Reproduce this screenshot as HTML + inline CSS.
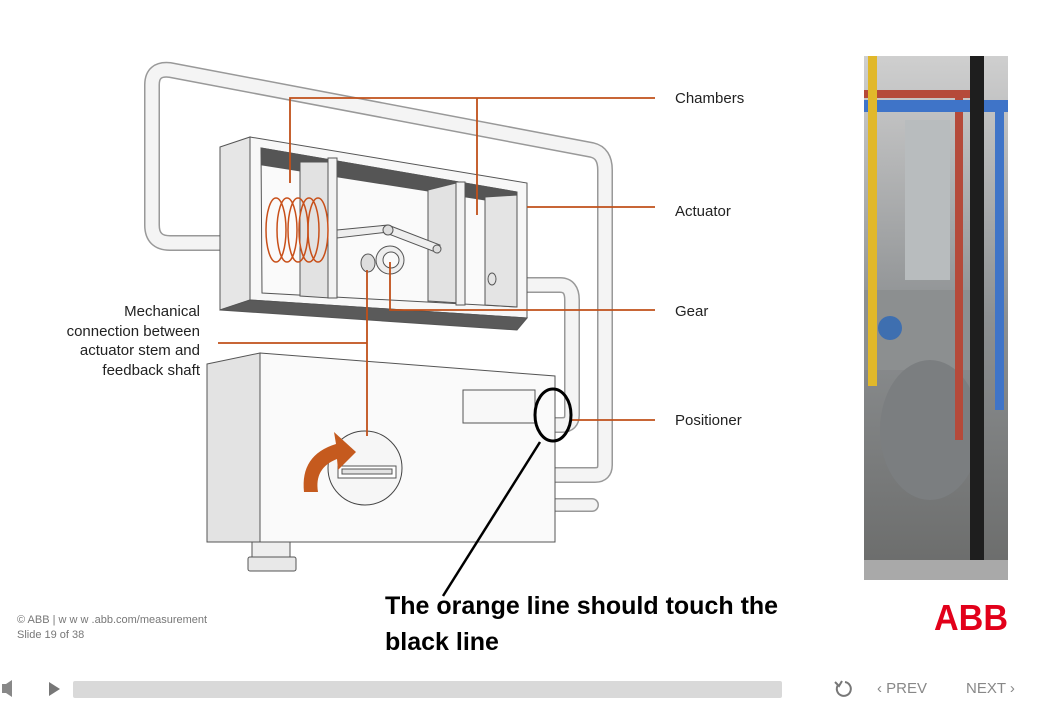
<!DOCTYPE html>
<html><head><meta charset="utf-8"><style>
html,body{margin:0;padding:0;background:#fff;}
body{width:1049px;height:710px;overflow:hidden;position:relative;font-family:"Liberation Sans",sans-serif;}
.lbl{position:absolute;font-size:15px;color:#222;}
</style></head><body>
<svg width="1049" height="710" style="position:absolute;left:0;top:0">
 <g fill="none" stroke-linecap="round" stroke-linejoin="round">
  <path d="M233,243 L170,243 Q152,243 152,225 L152,85 Q152,68 170,70 L592,150 Q605,153 605,170 L605,465 Q605,475 595,475 L555,475" stroke="#999" stroke-width="16"/>
  <path d="M233,243 L170,243 Q152,243 152,225 L152,85 Q152,68 170,70 L592,150 Q605,153 605,170 L605,465 Q605,475 595,475 L555,475" stroke="#f4f4f4" stroke-width="13"/>
  <path d="M525,285 L560,285 Q572,285 572,300 L572,415 Q572,425 562,425 L555,425" stroke="#999" stroke-width="16"/>
  <path d="M525,285 L560,285 Q572,285 572,300 L572,415 Q572,425 562,425 L555,425" stroke="#f4f4f4" stroke-width="13"/>
  <path d="M556,505 L592,505" stroke="#999" stroke-width="14"/>
  <path d="M556,505 L592,505" stroke="#f4f4f4" stroke-width="11"/>
 </g>
 <g stroke="#555" stroke-width="1">
  <polygon points="220,147 250,137 250,300 220,310" fill="#e6e6e6"/>
  <polygon points="250,137 527,183 527,318 250,300" fill="#f7f7f7"/>
  <polygon points="220,310 250,300 527,318 517,330" fill="#5a5a5a"/>
  <polygon points="261,148 517,192 517,307 262,293" fill="#fafafa"/>
  <polygon points="261,148 517,192 517,205 262,165" fill="#555"/>
  <polygon points="300,162 330,162 330,298 300,296" fill="#e2e2e2"/>
  <rect x="328" y="158" width="9" height="140" fill="#f2f2f2"/>
  <polygon points="428,190 460,182 460,303 428,301" fill="#e2e2e2"/>
  <rect x="456" y="182" width="9" height="123" fill="#f2f2f2"/>
  <polygon points="485,197 517,195 517,307 485,305" fill="#e4e4e4"/>
  <ellipse cx="492" cy="279" rx="4" ry="6" fill="none"/>
  <polygon points="337,230 388,225 388,232 337,238" fill="#eee"/>
  <polygon points="388,225 440,245 438,253 386,233" fill="#eee"/>
  <circle cx="388" cy="230" r="5" fill="#ddd"/>
  <circle cx="437" cy="249" r="4" fill="#ddd"/>
  <ellipse cx="368" cy="263" rx="7" ry="9" fill="#ddd"/>
  <circle cx="390" cy="260" r="14" fill="#eee"/>
  <circle cx="391" cy="260" r="8" fill="#fafafa"/>
 </g>
 <g fill="none" stroke="#c8501a" stroke-width="1.5">
  <ellipse cx="276" cy="230" rx="10" ry="32"/><ellipse cx="287" cy="230" rx="10" ry="32"/>
  <ellipse cx="298" cy="230" rx="10" ry="32"/><ellipse cx="309" cy="230" rx="10" ry="32"/>
  <ellipse cx="318" cy="230" rx="10" ry="32"/>
 </g>
 <g stroke="#555" stroke-width="1">
  <polygon points="207,364 260,353 260,542 207,542" fill="#e3e3e3"/>
  <polygon points="260,353 555,376 555,542 260,542" fill="#fafafa"/>
  <rect x="463" y="390" width="72" height="33" fill="#f8f8f8"/>
  <rect x="252" y="542" width="38" height="16" fill="#eee"/>
  <rect x="248" y="557" width="48" height="14" rx="2" fill="#e8e8e8"/>
  <circle cx="365" cy="468" r="37" fill="#f6f6f6" stroke="#444"/>
  <rect x="338" y="466" width="58" height="12" fill="#fff"/>
  <rect x="342" y="469" width="50" height="5" fill="#e2e2e2"/>
 </g>
 <path d="M304,492 Q300,455 336,444 L334,432 L356,452 L338,470 L337,459 Q314,468 318,492 Z" fill="#c55a1e"/>
 <g stroke="#c0501a" stroke-width="1.8" fill="none">
  <path d="M290,183 L290,98 L655,98"/>
  <path d="M477,98 L477,215"/>
  <path d="M527,207 L655,207"/>
  <path d="M390,262 L390,310 L655,310"/>
  <path d="M570,420 L655,420"/>
  <path d="M218,343 L367,343"/>
  <path d="M367,270 L367,436"/>
 </g>
 <ellipse cx="553" cy="415" rx="18" ry="26" fill="none" stroke="#000" stroke-width="3"/>
 <line x1="540" y1="442" x2="443" y2="596" stroke="#000" stroke-width="2.5"/>
 <g>
  <defs><linearGradient id="pg" x1="0" y1="0" x2="0" y2="1"><stop offset="0" stop-color="#cfcfcf"/><stop offset="0.5" stop-color="#8d9092"/><stop offset="1" stop-color="#6a6b6a"/></linearGradient></defs>
  <rect x="864" y="56" width="144" height="524" fill="url(#pg)"/>
  <rect x="905" y="120" width="45" height="160" fill="#b8bcbe"/>
  <rect x="864" y="290" width="110" height="80" fill="#8c8f90"/>
  <ellipse cx="930" cy="430" rx="50" ry="70" fill="#7b7e80"/>
  <rect x="864" y="90" width="110" height="8" fill="#b54a3a"/>
  <rect x="955" y="90" width="8" height="350" fill="#b54a3a"/>
  <rect x="864" y="100" width="144" height="12" fill="#3f74c8"/>
  <rect x="995" y="110" width="9" height="300" fill="#3f74c8"/>
  <rect x="868" y="56" width="9" height="330" fill="#e1b82a"/>
  <rect x="970" y="56" width="14" height="524" fill="#1e1e1e"/>
  <circle cx="890" cy="328" r="12" fill="#3e6fb0"/>
  <rect x="864" y="560" width="144" height="20" fill="#a9a9a9"/>
 </g>
 <g fill="#e2001a" font-family="Liberation Sans" font-weight="bold">
  <text x="934" y="630" font-size="36" textLength="74" lengthAdjust="spacingAndGlyphs">ABB</text>
 </g>
 <rect x="73" y="681" width="709" height="17" rx="2" fill="#d9d9d9"/>
 <g fill="#888"><rect x="2" y="684" width="4" height="9"/><polygon points="6,684 12,680 12,697 6,693"/></g>
 <polygon points="49,682 49,696 60,689" fill="#777"/>
 <g fill="none" stroke="#777" stroke-width="2"><path d="M838,685 A7,7 0 1 0 845,682"/><path d="M835,682 L839,686 L842,681" /></g>
</svg>
<div class="lbl" style="left:675px;top:90px">Chambers</div>
<div class="lbl" style="left:675px;top:203px">Actuator</div>
<div class="lbl" style="left:675px;top:303px">Gear</div>
<div class="lbl" style="left:675px;top:412px">Positioner</div>
<div class="lbl" style="right:849px;top:302px;text-align:right;line-height:19.5px">Mechanical<br>connection between<br>actuator stem and<br>feedback shaft</div>
<div style="position:absolute;left:17px;top:613px;font-size:11px;color:#777;line-height:15px">© ABB | w w w .abb.com/measurement<br>Slide 19 of 38</div>
<div style="position:absolute;left:385px;top:588px;font-size:25px;font-weight:bold;color:#000;line-height:36px;font-family:'Liberation Sans Narrow','Liberation Sans',sans-serif">The orange line should touch the<br>black line</div>
<div style="position:absolute;left:877px;top:680px;font-size:15px;color:#888">‹ PREV</div>
<div style="position:absolute;left:966px;top:680px;font-size:15px;color:#888">NEXT ›</div>
</body></html>
